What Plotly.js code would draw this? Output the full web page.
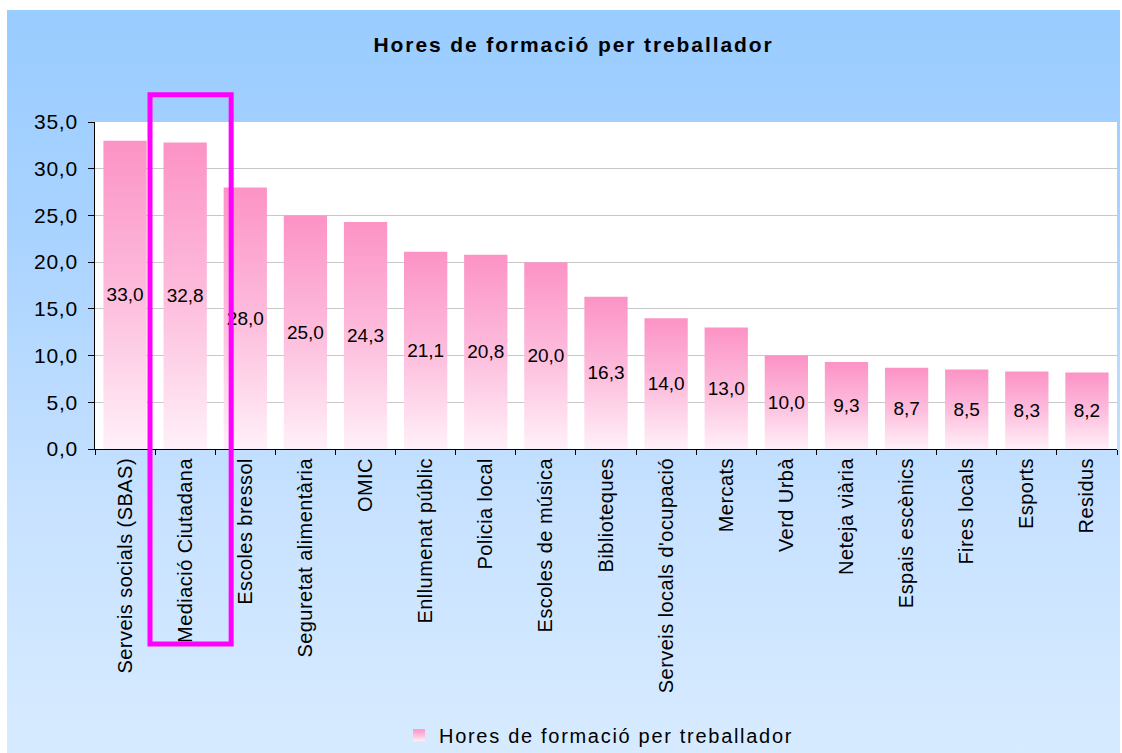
<!DOCTYPE html>
<html>
<head>
<meta charset="utf-8">
<script src="https://cdn.plot.ly/plotly-3.0.1.min.js"></script>
<style>
  html, body { margin: 0; padding: 0; background: #ffffff; width: 1122px; height: 753px; overflow: hidden; }
  #chart { position: absolute; left: 7px; top: 10px; width: 1113px; height: 743px;
           background: linear-gradient(to bottom, #99ccff 0%, #a9d3ff 30%, #c6e1ff 65%, #d7ebff 100%); }
</style>
</head>
<body>
<div id="chart"></div>
<script>
const categories = [
  "Serveis socials (SBAS)", "Mediació Ciutadana", "Escoles bressol", "Seguretat alimentària",
  "OMIC", "Enllumenat públic", "Policia local", "Escoles de música", "Biblioteques",
  "Serveis locals d'ocupació", "Mercats", "Verd Urbà", "Neteja viària", "Espais escènics",
  "Fires locals", "Esports", "Residus"
];
const hores = [33.0, 32.8, 28.0, 25.0, 24.3, 21.1, 20.8, 20.0, 16.3, 14.0, 13.0, 10.0, 9.3, 8.7, 8.5, 8.3, 8.2];
const seriesName = "Hores de formació per treballador";
const chartTitle = "Hores de formació per treballador";
const yTickVals = [0, 5, 10, 15, 20, 25, 30, 35];
const yTickText = yTickVals.map(v => v.toFixed(1).replace('.', ','));
const labels = hores.map(v => v.toFixed(1).replace('.', ','));

const FONT = "Liberation Sans, Arial, sans-serif";

const trace = {
  type: 'bar',
  x: categories,
  y: hores,
  name: seriesName,
  text: labels,
  textposition: 'inside',
  insidetextanchor: 'middle',
  textangle: 0,
  constraintext: 'none',
  textfont: { family: FONT, size: 19, color: '#000000' },
  marker: { color: '#fc96c8', line: { width: 0 } },
  hoverinfo: 'none',
  showlegend: true
};

const layout = {
  width: 1113,
  height: 743,
  margin: { l: 88, r: 3, t: 112, b: 304, autoexpand: false },
  paper_bgcolor: 'rgba(0,0,0,0)',
  plot_bgcolor: '#ffffff',
  bargap: 0.28,
  title: {
    text: '<b>' + chartTitle + '</b>',
    font: { family: FONT, size: 21, color: '#000000' },
    x: 0.509, xanchor: 'center',
    y: 0.953, yanchor: 'middle'
  },
  xaxis: {
    type: 'category',
    tickangle: -90,
    tickfont: { family: FONT, size: 20, color: '#000000' },
    showline: true, linecolor: '#000000', linewidth: 1,
    ticks: 'outside', ticklen: 5, tickcolor: '#000000',
    tickson: 'boundaries',
    showgrid: false,
    automargin: false,
    fixedrange: true
  },
  yaxis: {
    range: [0, 35],
    tickvals: yTickVals,
    ticktext: yTickText,
    tickfont: { family: FONT, size: 21, color: '#000000' },
    showline: true, linecolor: '#000000', linewidth: 1,
    ticks: 'outside', ticklen: 6, tickcolor: '#000000',
    ticklabelstandoff: 6,
    showgrid: true, gridcolor: '#c8c8c8', gridwidth: 1,
    zeroline: false,
    automargin: false,
    fixedrange: true
  },
  legend: {
    orientation: 'h',
    x: 0.2975, xanchor: 'left',
    y: -0.875, yanchor: 'middle',
    font: { family: FONT, size: 20, color: '#000000' },
    bgcolor: 'rgba(0,0,0,0)'
  },
  shapes: [{
    type: 'rect',
    xref: 'x', yref: 'paper',
    x0: 0.415, x1: 1.765,
    y0: -0.596, y1: 1.083,
    line: { color: '#ff00ff', width: 5 },
    fillcolor: 'rgba(0,0,0,0)',
    layer: 'above'
  }],
  showlegend: true
};

Plotly.newPlot('chart', [trace], layout, { displayModeBar: false, staticPlot: true }).then(function (gd) {
  const svg = gd.querySelector('svg.main-svg');
  const ns = 'http://www.w3.org/2000/svg';
  let defs = svg.querySelector('defs');
  if (!defs) { defs = document.createElementNS(ns, 'defs'); svg.insertBefore(defs, svg.firstChild); }
  const grad = document.createElementNS(ns, 'linearGradient');
  grad.setAttribute('id', 'barGrad');
  grad.setAttribute('x1', '0'); grad.setAttribute('y1', '0');
  grad.setAttribute('x2', '0'); grad.setAttribute('y2', '1');
  [['0%', '#fc93c6'], ['50%', '#fdbcdc'], ['100%', '#fff0f8']].forEach(function (s) {
    const st = document.createElementNS(ns, 'stop');
    st.setAttribute('offset', s[0]); st.setAttribute('stop-color', s[1]);
    grad.appendChild(st);
  });
  defs.appendChild(grad);
  gd.querySelectorAll('.barlayer .point path, .legendpoints path').forEach(function (p) {
    p.style.fill = 'url(#barGrad)';
  });
  // Excel-like letter spacing of the texts
  gd.querySelectorAll('.gtitle').forEach(function (t) { t.style.letterSpacing = '1.9px'; });
  gd.querySelectorAll('.legendtext').forEach(function (t) { t.style.letterSpacing = '1.7px'; });
  gd.querySelectorAll('.xtick text').forEach(function (t) { t.style.letterSpacing = '0.45px'; });
  gd.querySelectorAll('.ytick text').forEach(function (t) { t.style.letterSpacing = '0.7px'; });
  gd.querySelectorAll('.legend [clip-path]').forEach(function (e) { e.removeAttribute('clip-path'); });
});
</script>
</body>
</html>
